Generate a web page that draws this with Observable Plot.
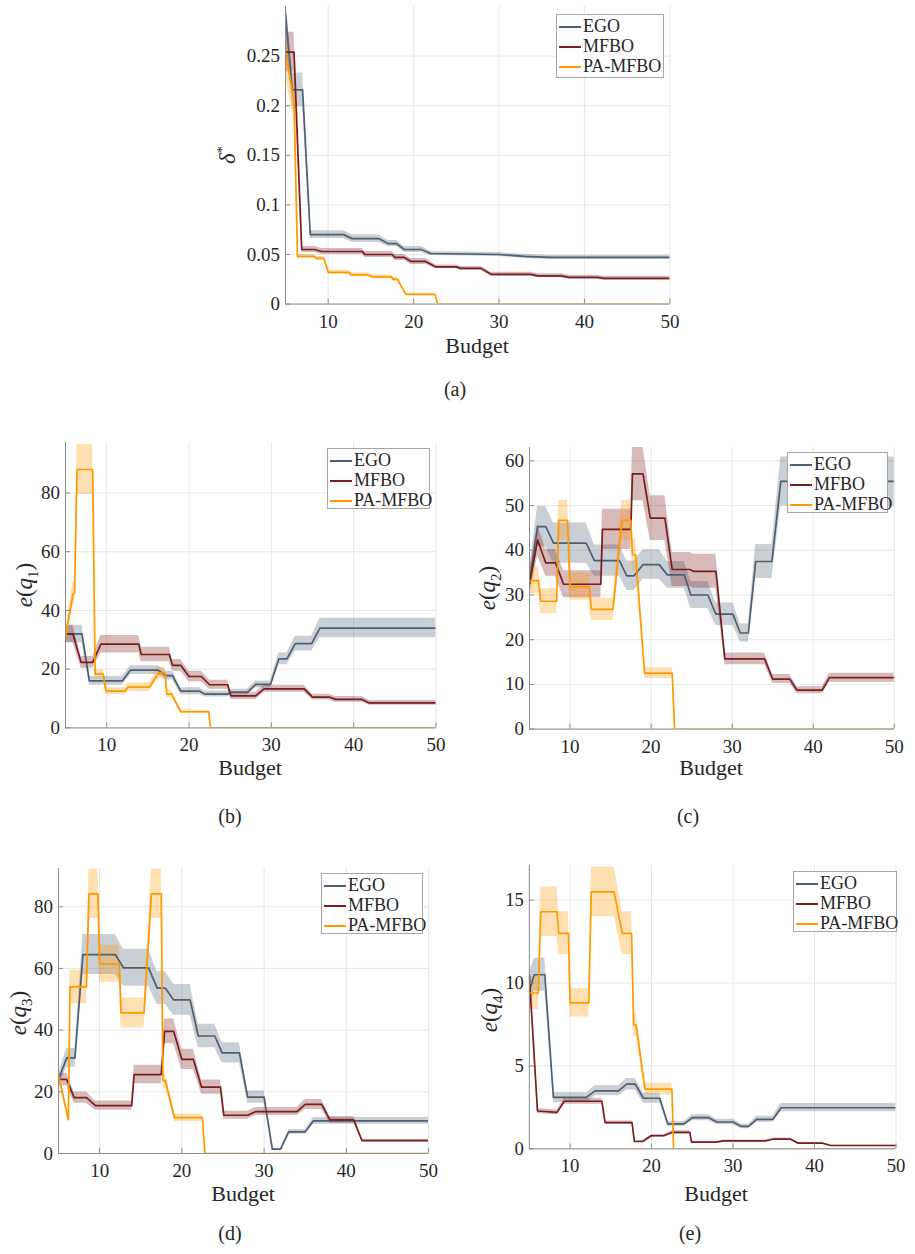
<!DOCTYPE html>
<html><head><meta charset="utf-8">
<script src="https://cdn.jsdelivr.net/npm/d3@7"></script>
<script src="https://cdn.jsdelivr.net/npm/@observablehq/plot@0.6"></script>
<style>
body{margin:0;background:#fff;}
#fig{position:relative;width:915px;height:1254px;font-family:"Liberation Serif","Times New Roman",serif;color:#262626;overflow:hidden;}
.plotbox{position:absolute;}
.ylab{position:absolute;transform:translate(-50%,-50%) rotate(-90deg);font-size:23px;white-space:nowrap;line-height:1;}
.xlab{position:absolute;transform:translate(-50%,-50%);font-size:22px;white-space:nowrap;line-height:1;}
.cap{position:absolute;transform:translate(-50%,-50%);font-size:20px;line-height:1;}
.leg{position:absolute;border:1px solid #a6a6a6;background:#fff;font-size:18px;box-sizing:border-box;padding:1px 0 0 2px;}
.leg div{height:20px;line-height:20px;white-space:nowrap;}
.leg span.sw{display:inline-block;width:22px;height:2px;vertical-align:middle;margin-right:2px;position:relative;top:-1px;}
</style>
</head><body><div id="fig"></div>
<script>
// ---- data: [budget, mean, half-width of shaded band] ----
const seriesNames = ["EGO", "MFBO", "PA-MFBO"];
const seriesColors = ["#4d6073", "#7a1d1d", "#ff9900"];
const budgetTicks = [10, 20, 30, 40, 50];

// (a) delta*
const a_EGO = [[5,0.292,0.02],[5.8,0.216,0.017],[7.0,0.216,0.017],[7.9,0.070,0.004],[11.8,0.070,0.004],[12.8,0.066,0.004],[15.9,0.066,0.004],[17.0,0.061,0.003],[18.0,0.061,0.003],[18.9,0.055,0.003],[20.9,0.055,0.003],[22.0,0.051,0.002],[30,0.050,0.002],[33,0.048,0.002],[36,0.047,0.002],[50,0.047,0.002]];
const a_MFBO = [[5,0.254,0.02],[6.0,0.254,0.02],[6.9,0.055,0.003],[8.4,0.055,0.003],[9.2,0.053,0.003],[14.0,0.053,0.003],[14.3,0.050,0.003],[17.5,0.050,0.003],[17.8,0.047,0.003],[18.9,0.047,0.003],[19.7,0.043,0.003],[21.4,0.043,0.003],[22.6,0.0375,0.002],[25,0.0375,0.002],[25.5,0.036,0.002],[27.9,0.036,0.002],[29.05,0.030,0.002],[33.7,0.030,0.002],[34.5,0.0285,0.002],[37.3,0.0285,0.002],[38.2,0.027,0.002],[41.5,0.027,0.002],[42.3,0.026,0.002],[50,0.026,0.002]];
const a_PA = [[5,0.254,0.025],[6.0,0.205,0.02],[6.4,0.048,0.002],[8.4,0.048,0.002],[8.6,0.046,0.002],[9.5,0.046,0.002],[10.0,0.032,0.002],[12.4,0.032,0.002],[12.7,0.0295,0.002],[14.6,0.0295,0.002],[15.2,0.0275,0.002],[17.4,0.0275,0.002],[17.6,0.025,0.002],[18.1,0.025,0.002],[19.1,0.0098,0.001],[22.5,0.0098,0.001],[22.8,0,0],[50,0,0]];
const a_yTicks = [0, 0.05, 0.1, 0.15, 0.2, 0.25];

// (b) e(q1)
const b_EGO = [[5,32,3],[7.0,32,3],[7.9,16,1.5],[11.9,16,1.5],[12.9,19.7,1.5],[16.2,19.7,1.5],[17.2,17.8,1.5],[18.0,17.8,1.5],[19.0,12.5,1.2],[21.3,12.5,1.2],[21.9,11.5,1.0],[24.7,11.5,1.0],[25.1,12.2,1.0],[27.1,12.2,1.0],[28.1,14.8,1.2],[29.9,14.8,1.2],[30.9,23.5,2],[31.9,23.5,2],[32.9,28.7,2.5],[34.9,28.7,2.5],[35.9,34.0,3.3],[50,34.0,3.3]];
const b_MFBO = [[5,32,3],[5.9,32,3],[6.9,22.3,2],[8.3,22.3,2],[9.3,28.5,3],[13.9,28.5,3],[14.2,25.0,2.5],[17.6,25.0,2.5],[18.0,21.3,2],[19.0,21.3,2],[20.0,17.5,1.8],[21.5,17.5,1.8],[22.5,14.7,1.5],[24.7,14.7,1.5],[25.1,10.9,1.2],[28.1,10.9,1.2],[29.1,13.3,1.2],[34.0,13.3,1.2],[35.0,10.5,1],[37.0,10.5,1],[37.8,9.7,1],[41.0,9.7,1],[41.9,8.5,0.8],[50,8.5,0.8]];
const b_PA = [[5,31,3],[5.9,45.5,4],[6.1,46,4],[6.4,88,8.5],[8.3,88,8.5],[8.6,18.3,1.5],[9.6,18.3,1.5],[9.9,12.5,1.2],[12.2,12.5,1.2],[12.6,13.9,1.5],[15.2,13.9,1.5],[16.3,18.7,2],[17.1,18.7,2],[17.3,11.5,1.2],[17.9,11.5,1.2],[19.0,5.5,0.6],[22.4,5.5,0.6],[22.6,0,0],[50,0,0]];
const b_yTicks = [0, 20, 40, 60, 80];

// (c) e(q2)
const c_EGO = [[5,33,3],[6.0,45.3,4.5],[7.0,45.3,4.5],[7.97,41.6,4.5],[12.0,41.6,4.5],[13.0,37.7,3.5],[16.1,37.7,3.5],[17.0,34.3,3.3],[17.9,34.3,3.3],[19.0,36.8,3.3],[21.0,36.8,3.3],[22.0,34.5,3],[24.1,34.5,3],[24.9,30.0,3],[27.0,30.0,3],[28.0,25.7,2.5],[30.1,25.7,2.5],[31.0,21.5,2],[32.0,21.5,2],[32.9,37.5,3.8],[34.9,37.5,3.8],[36.0,55.4,5.5],[50,55.4,5.5]];
const c_MFBO = [[5,32.5,3],[6.0,42.3,3.5],[7.0,37.2,3],[8.2,37.2,3],[9.2,32.4,3],[13.8,32.4,3],[14.0,44.7,4.5],[17.5,44.7,4.5],[17.7,57.1,6],[19.0,57.1,6],[19.9,47.2,5],[21.7,47.2,5],[22.6,35.7,3.8],[24.8,35.7,3.8],[25.2,35.3,3.8],[28.0,35.3,3.8],[29.1,15.7,1.3],[34.0,15.7,1.3],[35.0,11.2,1],[37.1,11.2,1],[38.0,8.7,0.8],[41.1,8.7,0.8],[42.0,11.5,1],[50,11.5,1]];
const c_PA = [[5,33.2,3],[6.1,33.2,3],[6.4,28.6,2.8],[8.35,28.6,2.8],[8.6,46.7,4.5],[9.7,46.7,4.5],[10.0,31.8,3],[12.4,31.8,3],[12.6,26.8,2.5],[15.3,26.8,2.5],[16.4,46.7,4.5],[17.5,46.7,4.5],[17.7,39,3.5],[18.1,39,3.5],[19.2,12.5,1.2],[22.6,12.5,1.2],[22.9,0,0],[50,0,0]];
const c_yTicks = [0, 10, 20, 30, 40, 50, 60];

// (d) e(q3)
const d_EGO = [[5,24,2],[6.0,31,3],[7.0,31,3],[7.97,64.5,6.5],[11.9,64.5,6.5],[12.9,60.2,6],[15.95,60.2,6],[17.0,53.6,5.3],[18.0,53.6,5.3],[19.0,49.8,5],[21.0,49.8,5],[22.0,38.1,3.8],[24.0,38.1,3.8],[24.9,32.6,3.3],[27.0,32.6,3.3],[28.0,18.3,2],[30.0,18.3,2],[31.0,1.4,0.3],[32.0,1.4,0.3],[33.0,7.0,0.8],[35.0,7.0,0.8],[36.0,10.6,1.1],[50,10.6,1.1]];
const d_MFBO = [[5,24,2],[6.0,24,2],[6.9,18.1,1.8],[8.4,18.1,1.8],[9.5,15.5,1.5],[13.9,15.5,1.5],[14.2,25.6,3],[17.5,25.6,3],[17.9,39.6,4],[19.0,39.6,4],[20.0,30.5,3.3],[21.4,30.5,3.3],[22.4,21.5,2.3],[24.7,21.5,2.3],[25.1,12.4,1.3],[28.0,12.4,1.3],[29.0,13.6,1.3],[34.0,13.6,1.3],[35.0,15.9,1.6],[37.0,15.9,1.6],[38.0,10.9,1.1],[40.9,10.9,1.1],[41.9,4.2,0.4],[50,4.2,0.4]];
const d_PA = [[5,25.5,2],[6.2,11,1],[6.4,54,5.5],[8.4,54,5.5],[8.7,84.2,8],[9.8,84.2,8],[10.0,61.5,6],[12.4,61.5,6],[12.6,45.6,4.8],[15.4,45.6,4.8],[16.3,84.2,8],[17.5,84.2,8],[17.7,23.6,2.3],[18.0,23.6,2.3],[19.1,11.6,1.2],[22.5,11.6,1.2],[22.8,0,0],[50,0,0]];
const d_yTicks = [0, 20, 40, 60, 80];

// (e) e(q4)
const e_EGO = [[5,9.5,1.1],[5.6,10.5,1.0],[6.9,10.5,1.0],[7.96,3.1,0.3],[12.0,3.1,0.3],[13.05,3.5,0.3],[15.95,3.5,0.3],[16.95,3.9,0.35],[18.0,3.9,0.35],[19.0,3.05,0.3],[21.0,3.05,0.3],[22.0,1.5,0.15],[24.0,1.5,0.15],[25.0,1.88,0.18],[27.0,1.88,0.18],[28.0,1.62,0.16],[30.0,1.62,0.16],[31.0,1.35,0.14],[31.9,1.35,0.14],[32.9,1.78,0.18],[34.9,1.78,0.18],[35.9,2.48,0.25],[50,2.48,0.25]];
const e_MFBO = [[5,10.5,0.3],[6.0,2.28,0.15],[8.4,2.2,0.15],[9.3,2.87,0.18],[13.9,2.87,0.18],[14.3,1.58,0.1],[17.6,1.58,0.1],[17.9,0.44,0.05],[18.9,0.44,0.05],[19.97,0.79,0.08],[21.5,0.79,0.08],[22.5,0.99,0.1],[24.7,0.99,0.1],[24.9,0.4,0.05],[27.9,0.4,0.05],[28.9,0.48,0.05],[34.0,0.48,0.05],[35.0,0.59,0.06],[37.0,0.59,0.06],[38.0,0.34,0.04],[41.0,0.34,0.04],[42.0,0.2,0.02],[50,0.2,0.02]];
const e_PA = [[5,9.4,1],[6.1,9.4,1],[6.4,14.3,1.5],[8.4,14.3,1.5],[8.6,13.0,1.3],[9.8,13.0,1.3],[10.0,8.8,0.85],[12.3,8.8,0.85],[12.6,15.5,1.5],[15.4,15.5,1.5],[16.4,13.0,1.3],[17.55,13.0,1.3],[17.8,7.47,0.7],[18.1,7.47,0.7],[19.2,3.6,0.35],[22.5,3.6,0.35],[22.7,0,0],[50,0,0]];
const e_yTicks = [0, 5, 10, 15];

// ---- layout ----
const panels = [
  {id:"a", data:[a_EGO,a_MFBO,a_PA], yTicks:a_yTicks, yMax:0.3, frame:{l:284.6,r:669,t:6.4,b:304},
   ylab:'<i>δ</i><sup style="font-size:15px">*</sup>', ylabPos:[227,155], xlabPos:[477,346], capPos:[455,389], cap:"(a)", leg:[556,14,108,64]},
  {id:"b", data:[b_EGO,b_MFBO,b_PA], yTicks:b_yTicks, yMax:97.2, frame:{l:64.5,r:435,t:442.3,b:727.7},
   ylab:'<i>e</i>(<i>q</i><sub style="font-size:15px">1</sub>)', ylabPos:[27,585], xlabPos:[250,768], capPos:[230,816], cap:"(b)", leg:[327,448,103,61]},
  {id:"c", data:[c_EGO,c_MFBO,c_PA], yTicks:c_yTicks, yMax:63, frame:{l:528.5,r:893.3,t:446.7,b:728.3},
   ylab:'<i>e</i>(<i>q</i><sub style="font-size:15px">2</sub>)', ylabPos:[490,588], xlabPos:[711,768], capPos:[688,816], cap:"(c)", leg:[787,452,101,61]},
  {id:"d", data:[d_EGO,d_MFBO,d_PA], yTicks:d_yTicks, yMax:92.4, frame:{l:58.2,r:428.3,t:868.3,b:1153.3},
   ylab:'<i>e</i>(<i>q</i><sub style="font-size:15px">3</sub>)', ylabPos:[21,1013], xlabPos:[243,1194], capPos:[230,1233], cap:"(d)", leg:[321,873,102,61]},
  {id:"e", data:[e_EGO,e_MFBO,e_PA], yTicks:e_yTicks, yMax:17.1, frame:{l:529.8,r:902.7,t:865,b:1153.3},
   ylab:'<i>e</i>(<i>q</i><sub style="font-size:15px">4</sub>)', ylabPos:[492,1010], xlabPos:[716,1194], capPos:[690,1233], cap:"(e)", leg:[793,871,104,61]}
];

const fig = document.getElementById("fig");
const axisColor = "#8c8c8c";
const gridColor = "#e6e6e6";
const fmt = d => String(+d.toFixed(3));

for (const p of panels) {
  const ml = 70, mr = 20, mt = 10, mb = 40;
  const w = p.frame.r - p.frame.l + ml + mr;
  const h = p.frame.b - p.frame.t + mt + mb;
  const marks = [
    Plot.gridX(budgetTicks, {stroke: gridColor, strokeOpacity: 1}),
    Plot.gridY(p.yTicks, {stroke: gridColor, strokeOpacity: 1})
  ];
  p.data.forEach((s, i) => {
    marks.push(Plot.areaY(s, {x: d => d[0], y1: d => d[1] - d[2], y2: d => d[1] + d[2],
      fill: seriesColors[i], fillOpacity: 0.3, clip: true}));
  });
  p.data.forEach((s, i) => {
    marks.push(Plot.line(s, {x: d => d[0], y: d => d[1], stroke: seriesColors[i], strokeWidth: 1.7, clip: true}));
  });
  marks.push(
    Plot.ruleX([5], {stroke: axisColor}),
    Plot.ruleY([0], {stroke: axisColor}),
    Plot.axisX(budgetTicks, {tickSize: -5, tickPadding: 15, stroke: axisColor, fill: "#262626", label: null, tickFormat: fmt}),
    Plot.axisY(p.yTicks, {tickSize: -5, tickPadding: 10.5, stroke: axisColor, fill: "#262626", label: null, tickFormat: fmt})
  );
  const svg = Plot.plot({
    width: w, height: h,
    marginLeft: ml, marginRight: mr, marginTop: mt, marginBottom: mb,
    x: {domain: [5, 50]},
    y: {domain: [0, p.yMax]},
    style: {fontFamily: '"Liberation Serif","Times New Roman",serif', fontSize: "19px", background: "transparent", overflow: "visible"},
    marks
  });
  const box = document.createElement("div");
  box.className = "plotbox";
  box.style.left = (p.frame.l - ml) + "px";
  box.style.top = (p.frame.t - mt) + "px";
  box.appendChild(svg);
  fig.appendChild(box);

  const yl = document.createElement("div");
  yl.className = "ylab";
  yl.innerHTML = p.ylab;
  yl.style.left = p.ylabPos[0] + "px"; yl.style.top = p.ylabPos[1] + "px";
  fig.appendChild(yl);

  const xl = document.createElement("div");
  xl.className = "xlab";
  xl.textContent = "Budget";
  xl.style.left = p.xlabPos[0] + "px"; xl.style.top = p.xlabPos[1] + "px";
  fig.appendChild(xl);

  const cp = document.createElement("div");
  cp.className = "cap";
  cp.textContent = p.cap;
  cp.style.left = p.capPos[0] + "px"; cp.style.top = p.capPos[1] + "px";
  fig.appendChild(cp);

  const lg = document.createElement("div");
  lg.className = "leg";
  lg.style.left = p.leg[0] + "px"; lg.style.top = p.leg[1] + "px";
  lg.style.width = p.leg[2] + "px"; lg.style.height = p.leg[3] + "px";
  seriesNames.forEach((n, i) => {
    const row = document.createElement("div");
    row.innerHTML = `<span class="sw" style="background:${seriesColors[i]}"></span>${n}`;
    lg.appendChild(row);
  });
  fig.appendChild(lg);
}
</script>
</body></html>
